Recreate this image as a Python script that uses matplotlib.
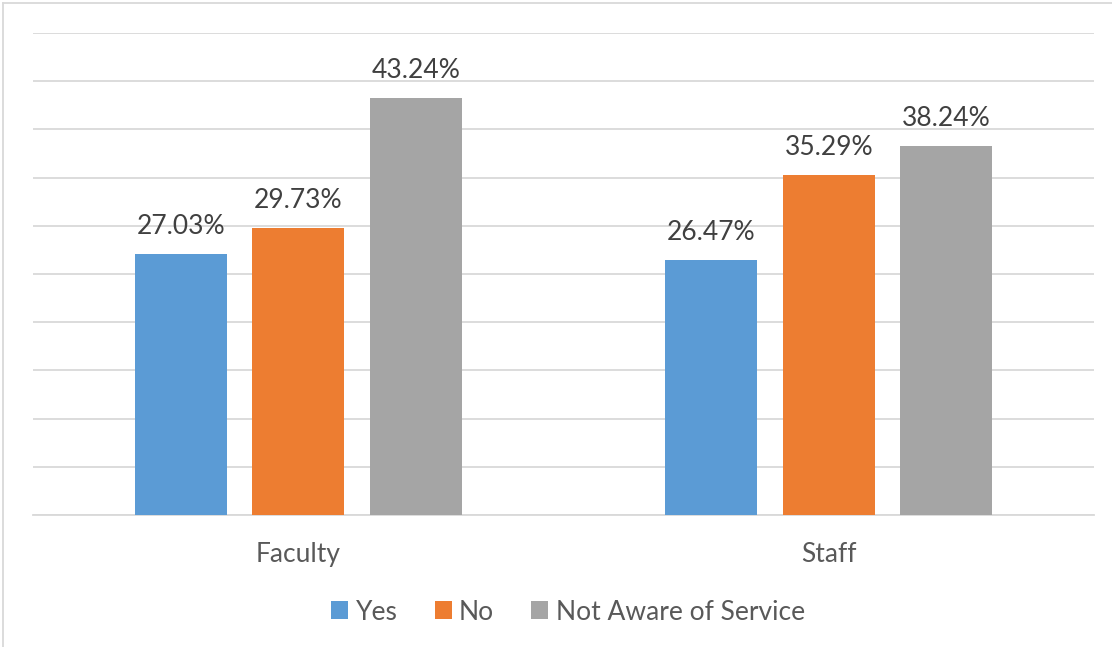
import matplotlib.pyplot as plt
import numpy as np
from matplotlib.lines import Line2D
from matplotlib.patches import Patch

plt.rcParams["font.family"] = ["Lato", "DejaVu Sans"]

groups = ["Faculty", "Staff"]
series = ["Yes", "No", "Not Aware of Service"]
yes_vals = [27.03, 26.47]
no_vals = [29.73, 35.29]
not_aware_vals = [43.24, 38.24]
colors = ["#5B9BD5", "#ED7D31", "#A5A5A5"]

W, H = 1112, 647
fig = plt.figure(figsize=(W / 100, H / 100), dpi=100)
ax = fig.add_axes([33 / W, (H - 515) / H, (1094 - 33) / W, (515 - 33) / H])

x = np.arange(len(groups))
width = 0.1735
step = 0.2215
for i, (vals, c) in enumerate(zip([yes_vals, no_vals, not_aware_vals], colors)):
    bars = ax.bar(x + (i - 1) * step, vals, width, color=c, zorder=3)
    for b, v in zip(bars, vals):
        ax.annotate("%.2f%%" % v, (b.get_x() + b.get_width() / 2, v),
                    xytext=(0, 11), textcoords="offset points",
                    ha="center", va="bottom", fontsize=19, color="#404040")

ax.set_xlim(-0.5, 1.5)
ax.set_ylim(0, 50)
ax.set_yticks(np.arange(0, 51, 5))
ax.yaxis.grid(True, color="#D9D9D9", linewidth=1.3, zorder=0)
ax.tick_params(axis="y", left=False, labelleft=False)
ax.tick_params(axis="x", bottom=False, pad=16, labelsize=19, labelcolor="#595959")
ax.set_xticks(x)
ax.set_xticklabels(groups)
for s in ["top", "right", "left"]:
    ax.spines[s].set_visible(False)
ax.spines["bottom"].set_color("#D9D9D9")
ax.spines["bottom"].set_linewidth(1.3)

handles = [Patch(facecolor=c, edgecolor="none") for c in colors]
fig.legend(handles, series, loc="center", bbox_to_anchor=(568 / W, 1 - 612 / H),
           ncol=3, frameon=False, fontsize=19, labelcolor="#595959",
           handlelength=0.65, handleheight=0.65, handletextpad=0.28,
           columnspacing=1.4)

# chart frame: only the left and top edges fall inside the image
frame_kw = dict(transform=fig.transFigure, color="#D9D9D9", linewidth=1.3)
fig.lines.append(Line2D([3 / W, 3 / W], [0, 1 - 3 / H], **frame_kw))
fig.lines.append(Line2D([3 / W, 1], [1 - 3 / H, 1 - 3 / H], **frame_kw))

fig.savefig("out.png", dpi=100)
